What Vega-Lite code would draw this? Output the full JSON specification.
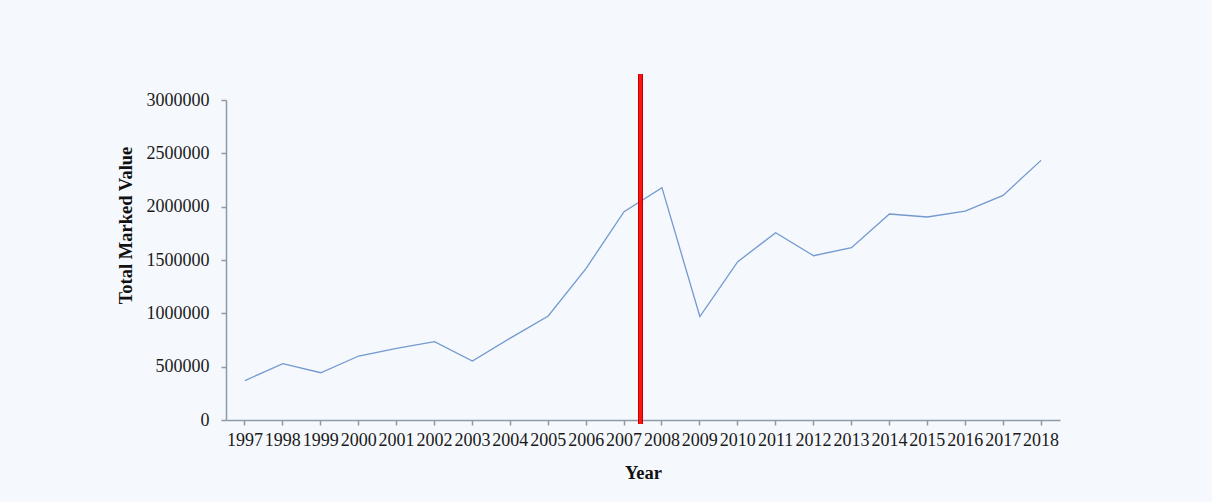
{
  "$schema": "https://vega.github.io/schema/vega-lite/v6.json",
  "width": 834,
  "height": 320,
  "autosize": {"type": "none"},
  "padding": {"left": 226, "top": 100, "right": 152, "bottom": 82},
  "background": "#f5f8fc",
  "config": {
    "view": {"stroke": null},
    "font": "Liberation Serif",
    "axis": {
      "domainColor": "#8e9aa8",
      "tickColor": "#8e9aa8",
      "domainWidth": 1.5,
      "tickWidth": 1.5,
      "tickSize": 5,
      "grid": false,
      "labelFont": "Liberation Serif",
      "labelFontSize": 18,
      "labelColor": "#1a1a1a",
      "titleFont": "Liberation Serif",
      "titleFontSize": 18.5,
      "titleFontWeight": "bold",
      "titleColor": "#111111"
    }
  },
  "data": {
    "values": [
      {"year": "1997", "value": 370000},
      {"year": "1998", "value": 528000},
      {"year": "1999", "value": 443000},
      {"year": "2000", "value": 600000},
      {"year": "2001", "value": 672000},
      {"year": "2002", "value": 734000},
      {"year": "2003", "value": 553000},
      {"year": "2004", "value": 768000},
      {"year": "2005", "value": 975000},
      {"year": "2006", "value": 1422000},
      {"year": "2007", "value": 1953000},
      {"year": "2008", "value": 2178000},
      {"year": "2009", "value": 970000},
      {"year": "2010", "value": 1484000},
      {"year": "2011", "value": 1756000},
      {"year": "2012", "value": 1540000},
      {"year": "2013", "value": 1616000},
      {"year": "2014", "value": 1931000},
      {"year": "2015", "value": 1903000},
      {"year": "2016", "value": 1959000},
      {"year": "2017", "value": 2106000},
      {"year": "2018", "value": 2434000}
    ]
  },
  "encoding": {
    "x": {
      "field": "year",
      "type": "ordinal",
      "scale": {"type": "band", "paddingInner": 0, "paddingOuter": 0},
      "axis": {
        "title": "Year",
        "labelAngle": 0,
        "labelPadding": 6,
        "titleY": 52,
        "titleBaseline": "middle"
      }
    }
  },
  "layer": [
    {
      "mark": {"type": "line", "color": "#7299d0", "strokeWidth": 1.3},
      "encoding": {
        "y": {
          "field": "value",
          "type": "quantitative",
          "scale": {"domain": [0, 3000000], "nice": false, "zero": true},
          "axis": {
            "title": "Total Marked Value",
            "values": [0, 500000, 1000000, 1500000, 2000000, 2500000, 3000000],
            "format": "d",
            "labelPadding": 12,
            "titleX": -101,
            "titleY": 125,
            "titleBaseline": "middle"
          }
        }
      }
    },
    {
      "mark": {"type": "rule", "color": "#c40000", "strokeWidth": 4.5},
      "encoding": {
        "x": {"datum": "2007", "bandPosition": 0.93},
        "y": {"datum": 3240000},
        "y2": {"datum": -35000}
      }
    },
    {
      "mark": {"type": "rule", "color": "#ff1414", "strokeWidth": 2.5},
      "encoding": {
        "x": {"datum": "2007", "bandPosition": 0.93},
        "y": {"datum": 3240000},
        "y2": {"datum": -35000}
      }
    }
  ]
}
